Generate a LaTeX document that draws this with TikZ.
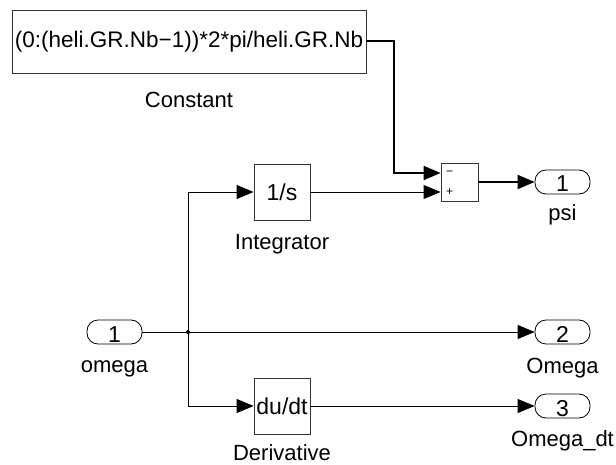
\documentclass[tikz,border=0pt]{standalone}
\usepackage{fontspec}
\setmainfont{Liberation Sans}
\usetikzlibrary{arrows.meta,positioning}

\begin{document}
\begin{tikzpicture}[
  x=1pt, y=-1pt,
  every node/.style={font=\fontsize{22}{26}\selectfont},
  block/.style={rectangle, draw=black!80, line width=0.8pt, inner sep=0pt, font=\fontsize{23}{26}\selectfont},
  port/.style={rectangle, draw, rounded corners=11pt, line width=0.8pt, minimum width=55pt, minimum height=24pt, inner sep=0pt, text height=22pt, text depth=2pt, font=\fontsize{23}{26}\selectfont},
  lbl/.style={inner sep=0pt, text height=16pt, text depth=4pt},
  sig/.style={-{Triangle[length=17pt, width=14pt]}, line width=0.9pt},
  bus/.style={sig, line width=2pt},
  >=Triangle
]
\useasboundingbox (0,0) rectangle (616,465);

% Constant
\node[block, minimum width=354pt, minimum height=63pt, font=\fontsize{22.5}{26}\selectfont] (const) at (189,41.5) {(0:(heli.GR.Nb−1))*2*pi/heli.GR.Nb};
\node[lbl, below=18pt of const] (constlbl) {Constant};

% Integrator and derivative
\node[block, minimum width=56pt, minimum height=56pt] (integ) at (282,192) {1/s};
\node[lbl, below=13pt of integ] (integlbl) {Integrator};
\node[block, minimum width=56pt, minimum height=56pt] (deriv) at (282,406) {du/dt};
\node[lbl, below=10pt of deriv] (derivlbl) {Derivative};

% Sum
\node[block, minimum width=37pt, minimum height=38pt] (sum) at (459.5,182) {};
\coordinate (summinus) at ([yshift=9pt]sum.west);
\coordinate (sumplus) at ([yshift=-10pt]sum.west);
\node[font=\fontsize{12}{14}\selectfont, right=2pt of summinus] (minus) {−};
\node[font=\fontsize{12}{14}\selectfont, right=2pt of sumplus] (plus) {+};

% Ports
\node[port] (inomega) at (114.5,332) {1};
\node[lbl, below=12pt of inomega] (inomegalbl) {omega};
\node[port] (outpsi) at (562.5,182) {1};
\node[lbl, below=10pt of outpsi] (outpsilbl) {psi};
\node[port] (outomega) at (562.5,332) {2};
\node[lbl, below=13pt of outomega] (outomegalbl) {Omega};
\node[port] (outdt) at (562.5,406) {3};
\node[lbl, below=12pt of outdt] (outdtlbl) {Omega\_dt};

% Signals
\coordinate (split) at (188,332);
\fill (split) circle (2pt);
\draw[bus] (const.east) -- ++(28,0) |- (summinus);
\draw[sig] (integ.east) -- (sumplus);
\draw[bus] (sum.east) -- (outpsi.west);
\draw[sig] (inomega.east) -- (outomega.west);
\draw[sig] (split) |- (integ.west);
\draw[sig] (split) |- (deriv.west);
\draw[sig] (deriv.east) -- (outdt.west);

\end{tikzpicture}
\end{document}
